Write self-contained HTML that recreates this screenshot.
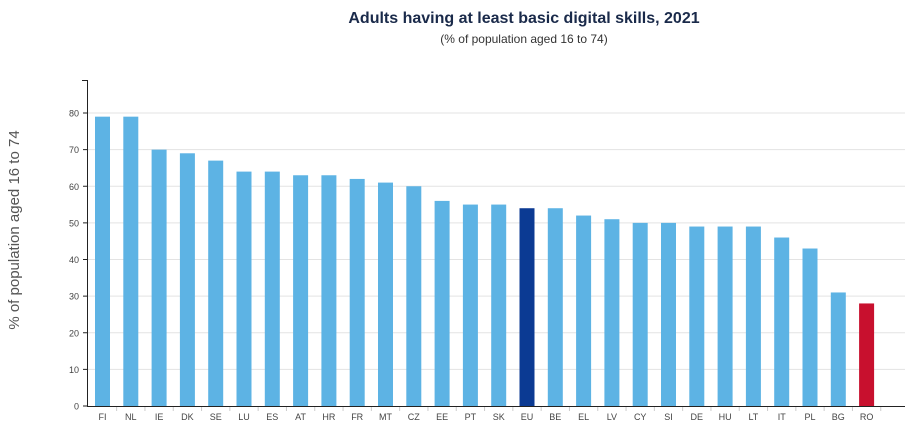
<!DOCTYPE html>
<html><head><meta charset="utf-8"><style>
body{margin:0;background:#fff;font-family:"Liberation Sans",sans-serif}
</style></head><body>
<svg width="906" height="437" xmlns="http://www.w3.org/2000/svg" font-family="Liberation Sans, sans-serif">
<text x="524" y="23" text-anchor="middle" font-size="16" font-weight="bold" fill="#1a2a4a">Adults having at least basic digital skills, 2021</text>
<text x="524" y="43" text-anchor="middle" font-size="12" fill="#333">(% of population aged 16 to 74)</text>
<text transform="translate(19,230) rotate(-90)" text-anchor="middle" font-size="15" fill="#555">% of population aged 16 to 74</text>
<g id="g"></g>
</svg>
<script>
const names="FI NL IE DK SE LU ES AT HR FR MT CZ EE PT SK EU BE EL LV CY SI DE HU LT IT PL BG RO".split(" ");
const vals=[79,79,70,69,67,64,64,63,63,62,61,60,56,55,55,54,54,52,51,50,50,49,49,49,46,43,31,28];
let s="";const y0=406,k=3.6625;
for(let v=10;v<=80;v+=10){const y=y0-v*k;s+=`<line x1="88" x2="905" y1="${y}" y2="${y}" stroke="#e3e3e3"/>`;}
for(let v=0;v<=80;v+=10){const y=y0-v*k;s+=`<text x="79" y="${y+3.5}" text-anchor="end" font-size="9" fill="#444">${v}</text><line x1="83" x2="88" y1="${y}" y2="${y}" stroke="#222"/>`;}
names.forEach((n,i)=>{const c=102.5+i*28.3;const h=vals[i]*k;
const col=n=="EU"?"#0b3a93":n=="RO"?"#c8102e":"#5db3e4";
s+=`<rect x="${c-7.5}" y="${y0-h}" width="15" height="${h}" fill="${col}"/>`;
s+=`<text x="${c}" y="420" text-anchor="middle" font-size="9" fill="#444">${n}</text>`;
s+=`<line x1="${c+14.15}" x2="${c+14.15}" y1="406" y2="411" stroke="#ccc"/>`;});
s+=`<line x1="87.5" x2="87.5" y1="80" y2="406" stroke="#222"/><line x1="82" x2="88" y1="80.5" y2="80.5" stroke="#222"/><line x1="87" x2="905" y1="406.5" y2="406.5" stroke="#222"/>`;
document.getElementById("g").innerHTML=s;
</script>
</body></html>
